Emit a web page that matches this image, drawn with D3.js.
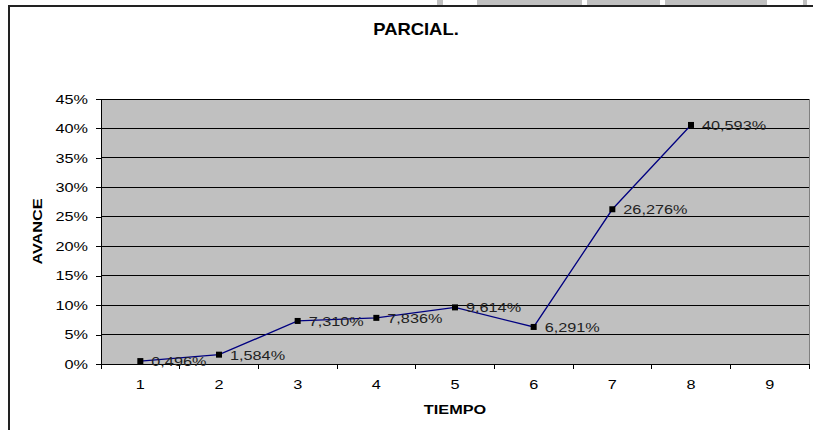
<!DOCTYPE html>
<html>
<head>
<meta charset="utf-8">
<script src="https://cdn.jsdelivr.net/npm/d3@7"></script>
<style>
  body { margin: 0; background: #fff; }
  svg { display: block; font-family: "Liberation Sans", Arial, sans-serif; }
</style>
</head>
<body>
<div id="chart"></div>
<script>
(() => {
  // data
  const categories = ["1", "2", "3", "4", "5", "6", "7", "8", "9"];
  const values = [0.496, 1.584, 7.31, 7.836, 9.614, 6.291, 26.276, 40.593];
  const valueLabels = ["0,496%", "1,584%", "7,310%", "7,836%", "9,614%", "6,291%", "26,276%", "40,593%"];
  const yTicks = [0, 5, 10, 15, 20, 25, 30, 35, 40, 45];

  const width = 813;
  const height = 430;
  const margin = { top: 99, right: 4, bottom: 66, left: 101 };
  const stretch = 1.25;

  const svg = d3
    .select("#chart")
    .append("svg")
    .attr("width", width)
    .attr("height", height);

  // spreadsheet cells peeking above the chart
  const cells = [[437, 443], [477, 582], [587, 660], [665, 767], [803, 807]];
  svg
    .selectAll("rect.cell")
    .data(cells)
    .join("rect")
    .attr("class", "cell")
    .attr("x", (d) => d[0])
    .attr("y", 0)
    .attr("width", (d) => d[1] - d[0])
    .attr("height", 5)
    .attr("fill", "#c0c0c0");

  // chart frame
  svg.append("path")
    .attr("d", `M9,${height} V6 H${width}`)
    .attr("fill", "none")
    .attr("stroke", "#222")
    .attr("stroke-width", 2);

  const x = d3
    .scaleBand()
    .domain(categories)
    .range([margin.left, width - margin.right])
    .padding(0);

  const y = d3
    .scaleLinear()
    .domain([0, 45])
    .range([height - margin.bottom, margin.top]);

  const plotW = x.range()[1] - x.range()[0];
  const plotH = y(0) - y(45);

  svg.append("rect")
    .attr("x", margin.left)
    .attr("y", y(45))
    .attr("width", plotW)
    .attr("height", plotH)
    .attr("fill", "#c0c0c0")
    .attr("stroke", "#808080")
    .attr("shape-rendering", "crispEdges");

  // gridlines
  svg.append("g")
    .selectAll("line")
    .data(yTicks.filter((d) => d > 0))
    .join("line")
    .attr("x1", margin.left)
    .attr("x2", margin.left + plotW)
    .attr("y1", (d) => y(d))
    .attr("y2", (d) => y(d))
    .attr("stroke", "#000")
    .attr("shape-rendering", "crispEdges");

  // Y axis
  const yAxis = svg.append("g")
    .attr("transform", `translate(${margin.left},0)`)
    .call(d3.axisLeft(y).tickValues(yTicks).tickFormat((d) => d + "%").tickSize(5).tickSizeOuter(0));
  yAxis.select(".domain").attr("stroke", "#000").attr("shape-rendering", "crispEdges");
  yAxis.selectAll(".tick line").attr("stroke", "#000").attr("shape-rendering", "crispEdges");
  yAxis.selectAll("text")
    .attr("x", null)
    .attr("transform", `translate(-13,0) scale(${stretch},1)`)
    .attr("font-size", 13)
    .attr("font-family", "Liberation Sans, Arial, sans-serif")
    .attr("fill", "#000");

  // X axis labels
  const xAxis = svg.append("g")
    .attr("transform", `translate(0,${y(0)})`)
    .call(d3.axisBottom(x).tickSize(0).tickPadding(16));
  xAxis.select(".domain").attr("stroke", "#000").attr("shape-rendering", "crispEdges");
  xAxis.selectAll("text")
    .attr("y", null)
    .attr("transform", `translate(0,16) scale(${stretch},1)`)
    .attr("font-size", 13)
    .attr("font-family", "Liberation Sans, Arial, sans-serif")
    .attr("fill", "#000");

  // category boundary ticks
  const bounds = categories.map((c) => x(c)).concat([x.range()[1]]);
  svg.append("g")
    .selectAll("line")
    .data(bounds)
    .join("line")
    .attr("x1", (d) => d)
    .attr("x2", (d) => d)
    .attr("y1", y(0))
    .attr("y2", y(0) + 5)
    .attr("stroke", "#000")
    .attr("shape-rendering", "crispEdges");

  const cx = (i) => x(categories[i]) + x.bandwidth() / 2;

  // series
  const line = d3
    .line()
    .x((d, i) => cx(i))
    .y((d) => y(d));

  svg.append("path")
    .datum(values)
    .attr("d", line)
    .attr("fill", "none")
    .attr("stroke", "#000080")
    .attr("stroke-width", 1.3);

  svg.append("g")
    .selectAll("rect")
    .data(values)
    .join("rect")
    .attr("x", (d, i) => cx(i) - 3)
    .attr("y", (d) => y(d) - 3)
    .attr("width", 6)
    .attr("height", 6)
    .attr("fill", "#000");

  svg.append("g")
    .selectAll("text")
    .data(values)
    .join("text")
    .attr("transform", (d, i) => `translate(${cx(i) + 11},${y(d) + 5}) scale(${stretch},1)`)
    .attr("font-size", 13)
    .attr("fill", "#222")
    .text((d, i) => valueLabels[i]);

  // titles
  svg.append("text")
    .attr("transform", `translate(416,35) scale(1.15,1)`)
    .attr("text-anchor", "middle")
    .attr("font-size", 16)
    .attr("font-weight", "bold")
    .text("PARCIAL.");

  svg.append("text")
    .attr("transform", `translate(${margin.left + plotW / 2},414) scale(${stretch},1)`)
    .attr("text-anchor", "middle")
    .attr("font-size", 13)
    .attr("font-weight", "bold")
    .text("TIEMPO");

  svg.append("text")
    .attr("transform", `translate(42,${y(22.5)}) rotate(-90) scale(${stretch},1)`)
    .attr("text-anchor", "middle")
    .attr("font-size", 13)
    .attr("font-weight", "bold")
    .text("AVANCE");
})();
</script>
</body>
</html>
